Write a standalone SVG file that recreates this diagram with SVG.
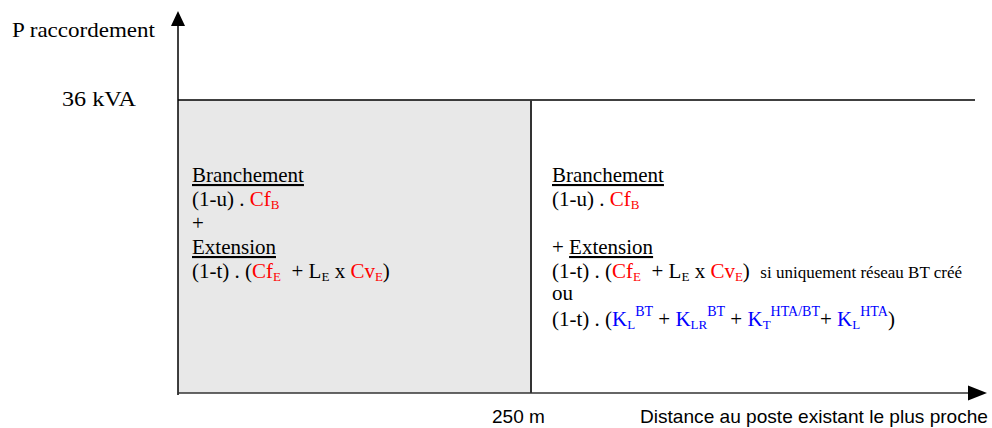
<svg xmlns="http://www.w3.org/2000/svg" width="992" height="428" viewBox="0 0 992 428">
<style>
.t{font-family:"Liberation Serif","Times New Roman",serif;font-size:21px;fill:#000;white-space:pre}
.a{font-family:"Liberation Sans",Arial,sans-serif;font-size:19px;fill:#000}
.r{fill:#ff0000}
.b{fill:#0000ff}
.s{font-size:13px}
.p{font-size:14px}
.u{text-decoration:underline}
</style>
<rect width="992" height="428" fill="#fff"/>
<g id="zone-gauche">
<rect x="178" y="100" width="353" height="293" fill="#e8e8e8"/>
</g>
<g id="connecteurs" stroke="#000" fill="none">
<line x1="178" y1="100" x2="975" y2="100" stroke-width="1.5"/>
<line x1="531" y1="100" x2="531" y2="393" stroke="#333" stroke-width="2"/>
<line x1="178" y1="395" x2="178" y2="24" stroke-width="1.5"/>
<polygon points="178,11 171,26 185,26" fill="#000" stroke="none"/>
<line x1="178" y1="393" x2="970" y2="393" stroke="#333" stroke-width="1.5"/>
<polygon points="987,393 968,385.5 968,400.5" fill="#000" stroke="none"/>
</g>
<g id="axe-y">
<text class="t" x="12" y="37" font-size="22" textLength="143" lengthAdjust="spacingAndGlyphs">P raccordement</text>
<text class="t" x="62" y="106" font-size="23" textLength="74" lengthAdjust="spacingAndGlyphs">36 kVA</text>
</g>
<g id="axe-x">
<text class="a" x="492" y="423">250 m</text>
<text class="a" x="640" y="423" textLength="348" lengthAdjust="spacingAndGlyphs">Distance au poste existant le plus proche</text>
</g>
<g id="texte-gauche">
<text class="t u" x="192" y="182">Branchement</text>
<text class="t" x="192" y="206">(1-u) . <tspan class="r">Cf</tspan><tspan class="r s" dy="3">B</tspan></text>
<text class="t" x="192" y="230">+</text>
<text class="t u" x="192" y="254">Extension</text>
<text class="t" x="192" y="278">(1-t) . (<tspan class="r">Cf</tspan><tspan class="r s" dy="3">E</tspan><tspan dy="-3">  + L</tspan><tspan class="s" dy="3">E</tspan><tspan dy="-3"> x </tspan><tspan class="r">Cv</tspan><tspan class="r s" dy="3">E</tspan><tspan dy="-3">)</tspan></text>
</g>
<g id="texte-droite">
<text class="t u" x="552" y="182">Branchement</text>
<text class="t" x="552" y="206">(1-u) . <tspan class="r">Cf</tspan><tspan class="r s" dy="3">B</tspan></text>
<text class="t" x="552" y="254">+ <tspan class="u">Extension</tspan></text>
<text class="t" x="552" y="278">(1-t) . (<tspan class="r">Cf</tspan><tspan class="r s" dy="3">E</tspan><tspan dy="-3">  + L</tspan><tspan class="s" dy="3">E</tspan><tspan dy="-3"> x </tspan><tspan class="r">Cv</tspan><tspan class="r s" dy="3">E</tspan><tspan dy="-3">)  </tspan><tspan font-size="17">si uniquement réseau BT créé</tspan></text>
<text class="t" x="552" y="300" font-size="17">ou</text>
<text class="t" x="552" y="326">(1-t) . (<tspan class="b">K</tspan><tspan class="b s" dy="3">L</tspan><tspan class="b p" dy="-13">BT</tspan><tspan dy="10"> + </tspan><tspan class="b">K</tspan><tspan class="b s" dy="3">LR</tspan><tspan class="b p" dy="-13">BT</tspan><tspan dy="10"> + </tspan><tspan class="b">K</tspan><tspan class="b s" dy="3">T</tspan><tspan class="b p" dy="-13">HTA/BT</tspan><tspan dy="10">+ </tspan><tspan class="b">K</tspan><tspan class="b s" dy="3">L</tspan><tspan class="b p" dy="-13">HTA</tspan><tspan dy="10">)</tspan></text>
</g>
</svg>
